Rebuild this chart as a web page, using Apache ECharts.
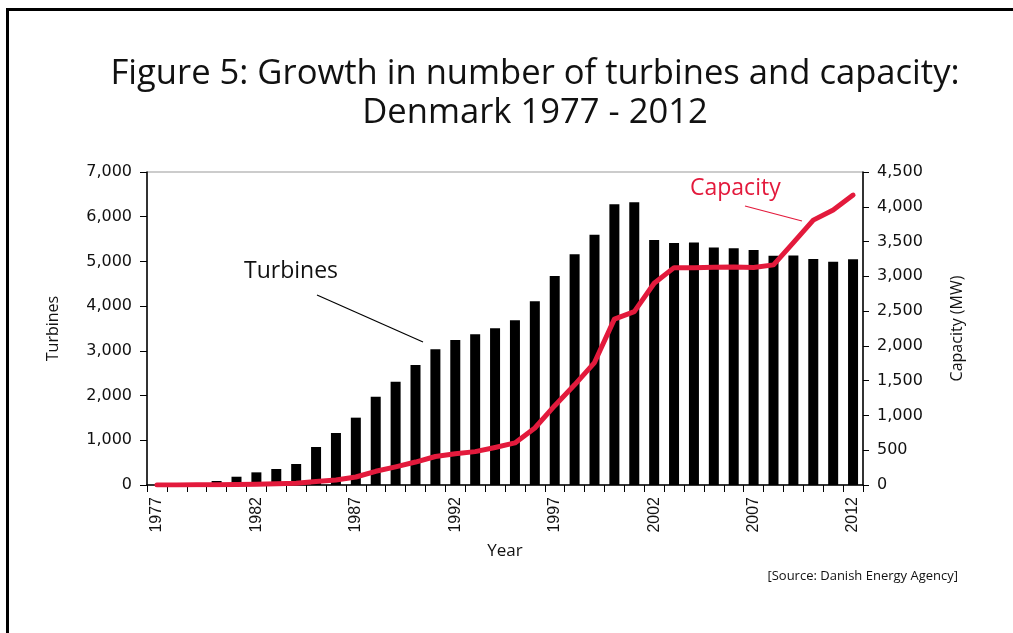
<!DOCTYPE html>
<html lang="en">
<head>
    <meta charset="UTF-8">
    <title>Denmark wind turbines 1977-2012</title>
    <script src="https://cdn.jsdelivr.net/npm/echarts@6/dist/echarts.min.js"></script>
    <style>
        html, body { margin: 0; padding: 0; background: #fff; }
        #main { width: 1013px; height: 633px; }
    </style>
</head>
<body>
<div id="main"></div>
<script>
    // years on the x axis
    let years = [];
    for (let y = 1977; y <= 2012; y++) years.push(String(y));

    // number of turbines (left axis)
    let turbines = [0, 20, 45, 90, 185, 283, 358, 470, 850, 1163, 1506, 1975,
        2310, 2683, 3034, 3242, 3369, 3503, 3682, 4107, 4673, 5158, 5597, 6276,
        6321, 5478, 5411, 5426, 5314, 5292, 5255, 5128, 5135, 5053, 4994, 5047];

    // installed capacity in MW (right axis)
    let capacity = [0, 1, 3, 5, 7, 12, 17, 25, 50, 73, 115, 197,
        261, 330, 410, 450, 480, 540, 605, 820, 1140, 1440, 1760, 2385,
        2492, 2900, 3125, 3125, 3130, 3135, 3128, 3165, 3485, 3808, 3955, 4168];

    let leftTicks = [0, 1000, 2000, 3000, 4000, 5000, 6000, 7000];
    let rightTicks = [0, 500, 1000, 1500, 2000, 2500, 3000, 3500, 4000, 4500];

    let red = '#e31a3c';
    let ink = '#111';
    let uiFont = 'Open Sans';

    function commas(v) {
        return String(v).replace(/\B(?=(\d{3})+(?!\d))/g, ',');
    }

    let myChart = echarts.init(document.getElementById('main'), null, { renderer: 'canvas' });

    myChart.setOption({
        animation: false,
        backgroundColor: '#fff',
        title: {
            text: 'Figure 5: Growth in number of turbines and capacity:\nDenmark 1977 - 2012',
            left: 530,
            textAlign: 'center',
            top: 50,
            textStyle: {
                fontFamily: uiFont,
                fontWeight: 'normal',
                fontSize: 34.6,
                lineHeight: 39,
                color: ink
            }
        },
        grid: {
            left: 147,
            right: 150,
            top: 172,
            bottom: 148,
            show: true,
            borderColor: '#999',
            borderWidth: 1
        },
        xAxis: {
            type: 'category',
            data: years,
            boundaryGap: true,
            name: 'Year',
            nameLocation: 'middle',
            nameGap: 58,
            nameTextStyle: { fontFamily: uiFont, fontSize: 17, color: ink },
            axisLine: { lineStyle: { color: '#000', width: 1.5 } },
            axisTick: { show: true, interval: 0, length: 7, lineStyle: { color: '#000' } },
            axisLabel: {
                interval: 4,
                rotate: 90,
                margin: 12,
                fontFamily: 'Liberation Sans',
                fontSize: 16,
                color: ink
            }
        },
        yAxis: [{
            type: 'value',
            min: leftTicks[0],
            max: leftTicks[leftTicks.length - 1],
            interval: 1000,
            name: 'Turbines',
            nameLocation: 'middle',
            nameGap: 86,
            nameRotate: 90,
            nameTextStyle: { fontFamily: uiFont, fontSize: 16, color: ink },
            splitLine: { show: false },
            axisLine: { show: true, lineStyle: { color: '#000', width: 1.5 } },
            axisTick: { show: true, length: 7, lineStyle: { color: '#000' } },
            axisLabel: {
                margin: 15,
                fontFamily: 'DejaVu Sans',
                fontSize: 16,
                color: ink,
                formatter: commas
            }
        }, {
            type: 'value',
            position: 'right',
            min: rightTicks[0],
            max: rightTicks[rightTicks.length - 1],
            interval: 500,
            name: 'Capacity (MW)',
            nameLocation: 'middle',
            nameGap: 86,
            nameRotate: 90,
            nameTextStyle: { fontFamily: uiFont, fontSize: 16, color: ink },
            splitLine: { show: false },
            axisLine: { show: true, lineStyle: { color: '#000', width: 1.5 } },
            axisTick: { show: true, length: 6, lineStyle: { color: '#000' } },
            axisLabel: {
                margin: 14,
                fontFamily: 'DejaVu Sans',
                fontSize: 16,
                color: ink,
                formatter: commas
            }
        }],
        series: [{
            name: 'Turbines',
            type: 'bar',
            data: turbines,
            barWidth: 10,
            itemStyle: { color: '#000' },
            z: 2
        }, {
            name: 'Capacity',
            type: 'line',
            yAxisIndex: 1,
            data: capacity,
            symbol: 'none',
            smooth: false,
            lineStyle: { color: red, width: 5, cap: 'round', join: 'round' },
            z: 3
        }],
        graphic: [{
            // outer frame, open to the right and bottom edges
            type: 'rect',
            shape: { x: 7.5, y: 9.5, width: 1030, height: 650 },
            style: { fill: 'none', stroke: '#000', lineWidth: 3 },
            silent: true
        }, {
            type: 'text',
            left: 244,
            top: 260,
            style: { text: 'Turbines', font: '23px ' + uiFont, fill: ink }
        }, {
            type: 'line',
            shape: { x1: 317, y1: 295, x2: 423, y2: 342 },
            style: { stroke: '#000', lineWidth: 1.2 }
        }, {
            type: 'text',
            left: 690,
            top: 177,
            style: { text: 'Capacity', font: '23px ' + uiFont, fill: red }
        }, {
            type: 'line',
            shape: { x1: 745, y1: 206, x2: 802, y2: 221 },
            style: { stroke: red, lineWidth: 1.2 }
        }, {
            type: 'text',
            right: 55,
            top: 570,
            style: { text: '[Source: Danish Energy Agency]', font: '13px ' + uiFont, fill: ink }
        }]
    });
</script>
</body>
</html>
